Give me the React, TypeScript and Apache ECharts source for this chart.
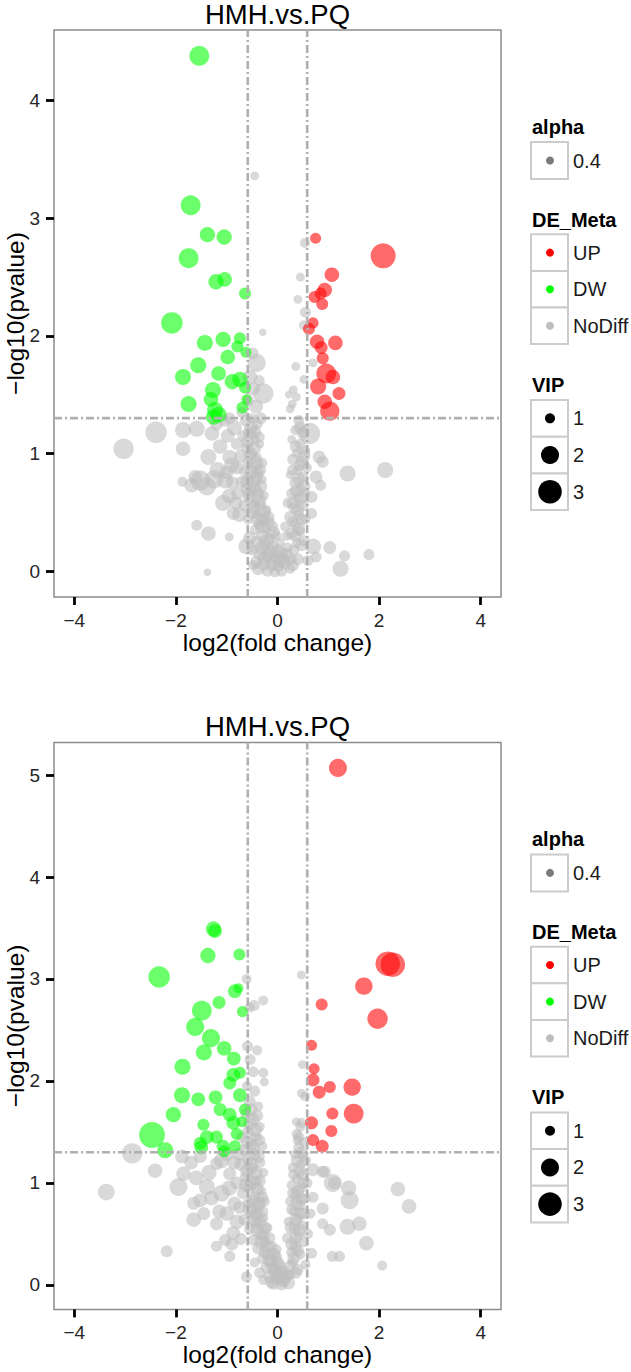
import React, { useEffect, useRef } from "react";
import * as echarts from "echarts";

// ---------- texts / ticks ----------
const TITLE = "HMH.vs.PQ";
const X_NAME = "log2(fold change)";
const Y_NAME = "\u2212log10(pvalue)";
const X_TICKS = [-4, -2, 0, 2, 4];
const Y_TICKS_TOP = [0, 1, 2, 3, 4];
const Y_TICKS_BOTTOM = [0, 1, 2, 3, 4, 5];
const X_RANGE = [-4.4, 4.4];
const Y_RANGE_TOP = [-0.22, 4.6];
const Y_RANGE_BOTTOM = [-0.24, 5.32];
const FC_CUT = 0.585;
const P_CUT = 1.301;
const ALPHA_LABELS = ["0.4"];
const DE_LABELS = ["UP", "DW", "NoDiff"];
const VIP_LABELS = [1, 2, 3];

// ---------- data: [log2FC, -log10(p), VIP] ----------
const upTop = [
  [0.75, 2.83, 1.1], [2.08, 2.68, 3.3], [1.07, 2.52, 1.5], [0.93, 2.39, 1.5], [0.85, 2.36, 1.2],
  [0.73, 2.33, 1.2], [0.88, 2.27, 1.2], [0.7, 2.11, 1.1], [0.62, 2.06, 1.2], [0.78, 1.95, 1.5],
  [1.14, 1.94, 1.5], [0.86, 1.9, 1.3], [0.89, 1.81, 1.2], [0.96, 1.68, 2.3], [1.09, 1.65, 1.5],
  [0.8, 1.57, 1.7], [1.21, 1.51, 1.3], [0.93, 1.44, 1.5], [1.03, 1.36, 2.2],
];
const dwTop = [
  [-1.54, 4.38, 2.3], [-1.71, 3.11, 2.3], [-1.38, 2.86, 1.6], [-1.05, 2.84, 1.6], [-1.75, 2.66, 2.3],
  [-1.21, 2.46, 1.6], [-1.04, 2.48, 1.5], [-0.64, 2.36, 1.2], [-2.08, 2.11, 2.6], [-1.43, 1.94, 1.7],
  [-1.07, 1.97, 1.6], [-0.74, 1.98, 1.2], [-0.79, 1.91, 1.2], [-0.62, 1.86, 1.1], [-0.98, 1.82, 1.5],
  [-1.56, 1.75, 1.7], [-1.86, 1.65, 1.7], [-1.16, 1.68, 1.5], [-0.89, 1.61, 1.6], [-0.74, 1.63, 1.6],
  [-0.64, 1.56, 1.2], [-1.27, 1.54, 1.7], [-1.31, 1.46, 1.5], [-1.75, 1.42, 1.7], [-1.23, 1.37, 1.7],
  [-1.16, 1.33, 1.7], [-0.69, 1.39, 1.2], [-0.61, 1.46, 1.0], [-1.26, 1.31, 1.6],
];
const ndTop = [
  [-0.45, 3.36, 0.9], [0.54, 2.79, 1.0], [0.45, 2.5, 0.9], [0.4, 2.31, 0.9], [0.55, 2.2, 1.1],
  [0.52, 2.09, 1.0], [-0.29, 2.03, 0.8], [0.36, 1.74, 0.9], [0.7, 1.77, 0.9], [0.52, 1.63, 0.9],
  [0.31, 1.54, 0.9], [0.37, 1.48, 0.9], [0.29, 1.42, 0.9], [0.22, 1.5, 0.8], [0.25, 1.38, 0.9],
  [-2.39, 1.18, 2.6], [-3.03, 1.04, 2.4], [-1.86, 1.2, 1.7], [-1.59, 1.21, 1.7], [-1.86, 1.04, 1.5],
  [-1.36, 0.97, 1.7], [-1.29, 1.17, 1.5], [-1.52, 0.77, 2.3], [-1.87, 0.76, 1.0], [-1.69, 0.73, 1.5],
  [-1.39, 0.72, 2.0], [-1.03, 0.77, 1.7], [-1.13, 1.06, 1.5], [-0.94, 0.97, 1.5], [-1.07, 0.58, 1.7],
  [-0.87, 0.49, 1.3], [-1.59, 0.39, 1.1], [-1.36, 0.32, 1.5], [-0.95, 0.29, 0.9], [-1.38, -0.01, 0.8],
  [-0.61, 0.21, 1.7],
  [0.63, 1.17, 2.6], [1.38, 0.83, 1.7], [2.12, 0.86, 1.7], [0.7, 0.21, 1.7], [1.03, 0.2, 1.3],
  [1.32, 0.13, 1.1], [1.8, 0.14, 1.1], [1.24, 0.02, 1.7], [0.82, 0.97, 1.3], [0.89, 0.93, 1.2],
  [0.76, 0.8, 1.3], [0.85, 0.73, 1.1], [0.67, 0.63, 1.2], [0.67, 0.49, 1.1], [0.6, 0.09, 1.1],
  [0.76, 0.12, 1.1],
  [-0.41, 1.77, 2.0], [-0.28, 1.51, 2.4], [-0.54, 1.65, 1.5], [-0.49, 1.85, 1.2],
  [-0.47, 1.55, 1.3], [-0.36, 1.62, 1.1], [-0.58, 1.45, 1.2], [-0.42, 1.4, 1.4], [-0.33, 1.3, 1.2],
  [-0.62, 1.28, 1.2], [-0.5, 1.3, 1.0], [-0.4, 1.25, 1.1], [-0.55, 1.18, 1.3], [-0.68, 1.15, 1.1],
  [-0.45, 1.12, 1.0], [-0.35, 1.08, 0.9], [-0.6, 1.05, 1.2], [-0.5, 1.0, 1.1], [-0.72, 0.98, 1.3],
  [-0.4, 0.96, 1.0], [-0.3, 0.92, 1.0], [-0.58, 0.92, 1.1], [-0.48, 0.88, 1.2], [-0.66, 0.85, 1.0],
  [-0.8, 0.88, 1.4], [-0.38, 0.84, 1.1], [-0.55, 0.8, 1.0], [-0.45, 0.76, 1.3], [-0.7, 0.76, 1.2],
  [-0.3, 0.78, 0.9], [-0.62, 0.7, 1.1], [-0.5, 0.68, 1.0], [-0.38, 0.66, 1.2], [-0.78, 0.66, 1.3],
  [-0.27, 0.64, 1.0], [-0.56, 0.62, 1.1], [-0.44, 0.58, 1.0], [-0.65, 0.56, 1.2], [-0.33, 0.56, 1.1],
  [-0.22, 0.52, 1.0], [-0.5, 0.5, 1.3], [-0.4, 0.48, 1.0], [-0.58, 0.44, 1.0], [-0.28, 0.44, 1.2],
  [-0.15, 0.42, 1.0],
  [-0.52, 1.22, 1.4], [-0.44, 1.18, 1.2], [-0.58, 1.1, 1.4], [-0.36, 1.14, 1.1], [-0.47, 1.04, 1.5],
  [-0.55, 0.98, 1.2], [-0.42, 0.92, 1.4], [-0.34, 0.86, 1.2], [-0.52, 0.84, 1.4], [-0.41, 0.8, 1.3],
  [-0.6, 0.76, 1.4], [-0.33, 0.72, 1.3], [-0.46, 0.7, 1.5], [-0.56, 0.66, 1.3], [-0.36, 0.6, 1.4],
  [-0.48, 0.54, 1.4], [-0.26, 0.5, 1.3], [-0.38, 0.44, 1.5], [-0.18, 0.46, 1.2], [-0.3, 0.38, 1.4],
  [-0.08, 0.33, 1.3], [-0.2, 0.26, 1.5], [0.0, 0.17, 1.4], [-0.14, 0.16, 1.4], [-0.32, 0.2, 1.3],
  [0.12, 0.1, 1.3], [-0.08, 0.07, 1.5], [0.06, 0.09, 1.4], [-0.26, 0.11, 1.4], [-0.38, 0.02, 1.3],
  [0.18, 0.14, 1.3], [0.3, 0.05, 1.2],
  [-0.85, 1.22, 1.6], [-0.98, 1.15, 1.4], [-0.8, 1.08, 1.2], [-1.2, 1.25, 1.3], [-1.05, 1.28, 1.2],
  [-0.9, 0.9, 1.6], [-1.0, 0.84, 1.4], [-1.18, 0.86, 1.7], [-0.88, 0.75, 1.3], [-1.25, 0.78, 2.0],
  [-0.95, 0.64, 1.5], [-0.82, 0.58, 1.3], [-0.75, 0.48, 1.5], [-1.62, 0.8, 1.4], [-0.7, 1.35, 1.1],
  [-0.95, 1.3, 1.2],
  [-0.35, 0.4, 1.2], [-0.22, 0.36, 1.0], [-0.1, 0.38, 1.1], [-0.45, 0.35, 1.0], [-0.3, 0.3, 1.3],
  [-0.15, 0.28, 1.1], [-0.02, 0.3, 1.0], [-0.4, 0.25, 1.2], [-0.25, 0.22, 1.1], [-0.1, 0.2, 1.3],
  [0.05, 0.24, 1.0], [-0.5, 0.18, 1.1], [-0.35, 0.15, 1.3], [-0.2, 0.13, 1.2], [-0.05, 0.12, 1.1],
  [0.1, 0.15, 1.2], [0.2, 0.2, 1.0], [-0.42, 0.08, 1.2], [-0.28, 0.06, 1.3], [-0.12, 0.05, 1.2],
  [0.02, 0.04, 1.1], [0.15, 0.07, 1.2], [0.28, 0.1, 1.0], [-0.2, 0.0, 1.1], [-0.05, -0.01, 1.0],
  [0.08, 0.0, 1.1], [0.25, 0.02, 1.0], [0.32, 0.18, 1.1], [0.18, 0.3, 1.0], [-0.55, 0.28, 1.3],
  [-0.48, 0.05, 1.0],
  [0.42, 1.28, 1.1], [0.35, 1.2, 1.0], [0.5, 1.18, 1.3], [0.28, 1.12, 0.9], [0.45, 1.08, 1.1],
  [0.55, 1.02, 1.0], [0.38, 1.0, 1.0], [0.3, 0.95, 1.1], [0.48, 0.93, 1.2], [0.58, 0.88, 1.0],
  [0.4, 0.86, 1.0], [0.25, 0.82, 0.9], [0.5, 0.8, 1.1], [0.35, 0.75, 1.2], [0.45, 0.7, 1.0],
  [0.55, 0.66, 1.0], [0.28, 0.66, 1.1], [0.4, 0.62, 1.0], [0.2, 0.58, 1.0], [0.5, 0.56, 1.2],
  [0.32, 0.54, 1.1], [0.42, 0.48, 1.0], [0.25, 0.46, 1.2], [0.55, 0.44, 1.0], [0.35, 0.4, 1.1],
  [0.15, 0.38, 1.0], [0.45, 0.34, 1.0], [0.28, 0.32, 1.2], [0.52, 0.26, 1.1], [0.38, 0.24, 1.0],
  [0.44, 1.22, 1.2], [0.36, 1.06, 1.2], [0.52, 0.98, 1.3], [0.44, 0.9, 1.2], [0.3, 0.86, 1.1],
  [0.42, 0.78, 1.3], [0.53, 0.72, 1.2], [0.36, 0.68, 1.2], [0.46, 0.62, 1.3], [0.3, 0.58, 1.2],
  [0.4, 0.52, 1.3], [0.48, 0.44, 1.2], [0.3, 0.42, 1.1], [0.42, 0.36, 1.3], [0.35, 0.3, 1.2],
  [0.47, 0.22, 1.2], [0.4, 0.1, 1.2],
];

const upBottom = [
  [1.19, 5.07, 2.0], [2.17, 3.15, 3.2], [2.27, 3.14, 3.2], [1.7, 2.93, 1.9], [0.87, 2.75, 1.2],
  [1.97, 2.61, 2.4], [0.67, 2.35, 1.1], [0.72, 2.12, 1.1], [0.7, 2.01, 1.3], [0.82, 1.89, 1.3],
  [1.03, 1.94, 1.2], [1.47, 1.94, 1.9], [1.5, 1.68, 2.3], [1.08, 1.68, 1.2], [0.67, 1.59, 1.3],
  [1.06, 1.51, 1.2], [0.7, 1.42, 1.2], [0.88, 1.36, 1.3],
];
const dwBottom = [
  [-1.26, 3.49, 1.6], [-1.23, 3.47, 1.4], [-1.37, 3.23, 1.6], [-0.75, 3.24, 1.2], [-2.33, 3.02, 2.6],
  [-0.84, 2.88, 1.4], [-0.77, 2.91, 1.0], [-1.15, 2.77, 1.3], [-1.49, 2.69, 2.3], [-0.69, 2.68, 1.1],
  [-1.62, 2.53, 2.0], [-1.31, 2.42, 2.0], [-1.45, 2.28, 1.7], [-1.05, 2.32, 1.5], [-0.86, 2.22, 1.4],
  [-1.87, 2.14, 1.7], [-0.87, 2.06, 1.4], [-0.94, 1.98, 1.3], [-0.74, 2.08, 1.2], [-1.88, 1.86, 1.7],
  [-1.56, 1.82, 1.4], [-1.22, 1.84, 1.4], [-0.74, 1.86, 1.4], [-2.05, 1.67, 1.6], [-1.13, 1.72, 1.3],
  [-0.94, 1.67, 1.4], [-0.64, 1.72, 1.2], [-0.87, 1.59, 1.4], [-1.46, 1.57, 1.2], [-2.47, 1.47, 3.5],
  [-1.39, 1.45, 1.4], [-1.52, 1.39, 1.3], [-1.2, 1.45, 1.3], [-1.07, 1.36, 1.3], [-0.84, 1.36, 1.2],
  [-2.21, 1.32, 1.7], [-1.05, 1.31, 1.2], [-0.7, 1.6, 1.1], [-0.8, 1.48, 1.2], [-1.5, 1.35, 1.4],
];
const ndBottom = [
  [0.47, 3.04, 0.9], [-0.61, 3.0, 1.0], [-0.28, 2.79, 1.0], [-0.46, 2.74, 1.1], [-0.55, 2.72, 1.0],
  [-0.59, 2.34, 1.1], [-0.4, 2.3, 1.0], [-0.54, 2.21, 1.1], [-0.48, 2.09, 1.1], [-0.28, 2.08, 1.0],
  [-0.26, 1.99, 0.9], [0.49, 2.16, 0.9], [0.47, 1.88, 0.9], [0.54, 1.85, 1.0], [0.47, 1.59, 1.0],
  [0.37, 1.6, 0.9], [0.4, 1.42, 1.0], [0.5, 1.26, 1.0],
  [-2.86, 1.29, 2.4], [-3.37, 0.91, 1.8], [-2.41, 1.12, 1.5], [-1.95, 0.96, 2.0], [-2.18, 0.33, 1.2],
  [-1.65, 0.64, 1.5], [-1.52, 0.83, 1.4], [-1.88, 1.26, 1.4], [-1.85, 1.09, 1.5], [-1.65, 0.8, 1.3],
  [-1.39, 0.96, 1.7], [-1.2, 0.6, 1.3], [-1.03, 0.44, 1.2], [-0.94, 0.28, 1.1], [-0.61, 0.08, 1.1],
  [-1.52, 1.26, 1.3], [-1.2, 1.19, 1.3], [-0.94, 1.09, 1.3], [-0.87, 0.51, 1.4], [-1.2, 0.38, 1.1],
  [-1.7, 1.2, 1.4], [-1.35, 1.1, 1.6], [-1.1, 0.9, 1.8], [-1.45, 0.7, 1.3], [-1.0, 0.7, 1.5],
  [-0.85, 0.8, 1.4],
  [-1.1, 1.22, 1.6], [-0.85, 1.2, 1.4], [-1.3, 0.85, 1.5], [-0.95, 0.95, 1.6], [-0.8, 0.62, 1.5],
  [-1.15, 0.72, 1.4], [-0.9, 0.4, 1.3], [-1.6, 1.05, 1.5], [-0.75, 1.28, 1.3], [-1.0, 1.28, 1.4],
  [2.37, 0.94, 1.5], [2.59, 0.77, 1.5], [1.42, 0.83, 2.0], [1.09, 1.0, 2.0], [1.4, 0.95, 1.6],
  [1.61, 0.6, 1.5], [1.75, 0.41, 1.5], [1.38, 0.57, 1.7], [2.06, 0.19, 1.0], [1.08, 0.28, 1.1],
  [1.22, 0.28, 1.1], [0.89, 0.75, 1.2], [1.03, 0.54, 1.2], [0.89, 1.11, 1.2], [0.7, 1.13, 1.3],
  [0.93, 1.11, 1.2], [1.12, 1.0, 1.3], [0.7, 0.86, 1.1], [0.89, 0.6, 1.1], [0.67, 0.31, 1.1],
  [0.6, 0.5, 1.0], [0.65, 0.7, 1.0],
  [-0.6, 1.95, 1.0], [-0.45, 1.9, 1.1], [-0.55, 1.8, 1.2], [-0.38, 1.75, 1.0], [-0.62, 1.68, 1.1],
  [-0.48, 1.62, 1.3], [-0.35, 1.55, 1.0], [-0.58, 1.5, 1.2], [-0.7, 1.45, 1.1], [-0.42, 1.45, 1.1],
  [-0.52, 1.38, 1.3], [-0.3, 1.36, 1.0], [-0.65, 1.32, 1.2], [-0.45, 1.28, 1.2], [-0.58, 1.22, 1.1],
  [-0.35, 1.2, 1.1], [-0.72, 1.18, 1.3], [-0.5, 1.14, 1.2], [-0.28, 1.1, 1.0], [-0.62, 1.06, 1.2],
  [-0.42, 1.02, 1.1], [-0.8, 1.0, 1.3], [-0.55, 0.96, 1.3], [-0.32, 0.92, 1.0], [-0.68, 0.9, 1.2],
  [-0.45, 0.86, 1.2], [-0.25, 0.82, 1.0], [-0.58, 0.8, 1.1], [-0.75, 0.76, 1.3], [-0.38, 0.76, 1.2],
  [-0.5, 0.7, 1.1], [-0.28, 0.66, 1.0], [-0.65, 0.64, 1.2], [-0.42, 0.6, 1.2], [-0.2, 0.56, 1.0],
  [-0.55, 0.55, 1.1], [-0.34, 0.5, 1.2], [-0.72, 0.45, 1.2], [-0.48, 0.44, 1.1],
  [-0.52, 1.72, 1.2], [-0.4, 1.66, 1.2], [-0.55, 1.58, 1.3], [-0.44, 1.52, 1.4], [-0.36, 1.42, 1.2],
  [-0.6, 1.4, 1.3], [-0.48, 1.34, 1.4], [-0.38, 1.26, 1.3], [-0.52, 1.18, 1.4], [-0.42, 1.1, 1.3],
  [-0.6, 1.12, 1.4], [-0.35, 1.02, 1.2], [-0.5, 1.0, 1.5], [-0.4, 0.94, 1.3], [-0.62, 0.98, 1.4],
  [-0.3, 0.86, 1.2], [-0.48, 0.82, 1.4], [-0.36, 0.8, 1.3], [-0.55, 0.74, 1.4], [-0.42, 0.7, 1.3],
  [-0.3, 0.72, 1.2], [-0.46, 0.64, 1.4], [-0.34, 0.62, 1.3], [-0.24, 0.56, 1.2], [-0.4, 0.54, 1.4],
  [-0.28, 0.48, 1.3], [-0.16, 0.46, 1.2], [-0.32, 0.42, 1.4], [-0.2, 0.38, 1.3], [-0.08, 0.3, 1.3],
  [-0.25, 0.32, 1.2], [-0.15, 0.24, 1.4], [0.0, 0.22, 1.3], [-0.08, 0.16, 1.4], [0.06, 0.12, 1.3],
  [-0.02, 0.1, 1.4], [0.12, 0.04, 1.3], [-0.12, 0.03, 1.3], [0.18, 0.1, 1.2],
  [-0.25, 0.42, 1.1], [-0.1, 0.38, 1.0], [-0.38, 0.36, 1.2], [-0.18, 0.3, 1.2], [-0.02, 0.28, 1.1],
  [-0.3, 0.26, 1.1], [-0.45, 0.22, 1.0], [-0.12, 0.22, 1.3], [0.05, 0.2, 1.0], [-0.22, 0.17, 1.2],
  [-0.35, 0.12, 1.1], [-0.05, 0.14, 1.2], [0.12, 0.14, 1.1], [-0.15, 0.08, 1.3], [0.0, 0.06, 1.2],
  [0.15, 0.06, 1.1], [-0.28, 0.05, 1.0], [0.25, 0.1, 1.0], [-0.08, 0.01, 1.2], [0.08, 0.0, 1.1],
  [0.22, 0.02, 1.3], [-0.02, 0.35, 1.0], [0.3, 0.22, 1.0],
  [0.45, 1.55, 1.0], [0.38, 1.48, 1.0], [0.52, 1.4, 1.0], [0.42, 1.35, 1.1], [0.35, 1.28, 1.0],
  [0.55, 1.22, 1.1], [0.45, 1.18, 1.0], [0.3, 1.15, 1.0], [0.5, 1.08, 1.2], [0.38, 1.04, 1.0],
  [0.58, 1.0, 1.1], [0.28, 0.98, 1.0], [0.46, 0.95, 1.1], [0.36, 0.88, 1.2], [0.55, 0.85, 1.0],
  [0.25, 0.82, 1.0], [0.44, 0.78, 1.1], [0.32, 0.72, 1.0], [0.52, 0.7, 1.2], [0.4, 0.65, 1.0],
  [0.22, 0.62, 1.0], [0.48, 0.58, 1.1], [0.33, 0.55, 1.1], [0.42, 0.48, 1.0], [0.2, 0.46, 1.1],
  [0.52, 0.42, 1.0], [0.35, 0.38, 1.2], [0.45, 0.3, 1.0], [0.28, 0.32, 1.1], [0.55, 0.2, 1.0],
  [0.4, 0.15, 1.1],
  [0.42, 1.45, 1.1], [0.48, 1.3, 1.2], [0.38, 1.22, 1.2], [0.44, 1.12, 1.3], [0.32, 1.08, 1.1],
  [0.5, 1.0, 1.2], [0.4, 0.92, 1.3], [0.3, 0.9, 1.1], [0.48, 0.84, 1.2], [0.38, 0.8, 1.3],
  [0.28, 0.74, 1.1], [0.46, 0.7, 1.2], [0.36, 0.64, 1.3], [0.26, 0.56, 1.2], [0.44, 0.54, 1.3],
  [0.36, 0.46, 1.2], [0.28, 0.4, 1.3], [0.4, 0.34, 1.2], [0.32, 0.26, 1.3], [0.24, 0.18, 1.2],
  [0.36, 0.12, 1.2],
];

// ---------- styling ----------
const FONT = "'Liberation Sans', Arial, Helvetica, sans-serif";
const COLORS = { UP: "#FF0000", DW: "#00FF00", NoDiff: "#BEBEBE" };
const POINT_OPACITY = 0.58;
const PANEL_LEFT = 54;
const PANEL_W = 447;
const PANEL_H = 567;
const PANEL_TOPS = [30, 742.4];
const LEG_X = 531;

const vipSize = (v: number) => Math.max(3, -0.9 + 26.8 * Math.sqrt(Math.max(0, v - 0.5) / 3));
const fmt = (v: number) => (v < 0 ? "\u2212" + Math.abs(v) : String(v));

function textEl(text: string, x: number, y: number, size: number, opts: any = {}) {
  return {
    type: "text",
    x,
    y,
    silent: true,
    style: {
      text,
      fontSize: size,
      fontFamily: FONT,
      fontWeight: opts.bold ? "bold" : "normal",
      fill: opts.fill || "#1a1a1a",
      align: opts.align || "left",
      verticalAlign: "middle",
      textAlign: opts.align || "left",
      textVerticalAlign: "middle",
    },
  };
}

function keyBox(y: number, h: number) {
  return {
    type: "rect",
    silent: true,
    shape: { x: LEG_X, y, width: 37, height: h },
    style: { fill: "#ffffff", stroke: "#cccccc", lineWidth: 2 },
  };
}

function legendEls(dy: number) {
  const els: any[] = [];
  els.push(textEl(TITLE, 277.5, 14.5 + dy, 27.5, { align: "center", fill: "#000" }));
  // alpha
  els.push(textEl("alpha", 532, 126.5 + dy, 20, { bold: true, fill: "#000" }));
  ALPHA_LABELS.forEach((lab, i) => {
    const y = 142 + dy + i * 37;
    els.push(keyBox(y, 37));
    els.push({ type: "circle", silent: true, shape: { cx: 550, cy: y + 18.5, r: 4 }, style: { fill: "#7a7a7a" } });
    els.push(textEl(lab, 573, y + 18.5, 20));
  });
  // DE_Meta
  els.push(textEl("DE_Meta", 532, 219.8 + dy, 20, { bold: true, fill: "#000" }));
  DE_LABELS.forEach((lab, i) => {
    const y = 234.3 + dy + i * 36.6;
    els.push(keyBox(y, 36.6));
    els.push({ type: "circle", silent: true, shape: { cx: 550, cy: y + 18.3, r: 4 }, style: { fill: (COLORS as any)[lab] } });
    els.push(textEl(lab, 573, y + 18.3, 20));
  });
  // VIP
  els.push(textEl("VIP", 532, 385 + dy, 20, { bold: true, fill: "#000" }));
  VIP_LABELS.forEach((v, i) => {
    const y = 400 + dy + i * 36.7;
    els.push(keyBox(y, 36.7));
    els.push({ type: "circle", silent: true, shape: { cx: 550, cy: y + 18.35, r: vipSize(v) / 2 }, style: { fill: "#000" } });
    els.push(textEl(String(v), 573, y + 18.35, 20));
  });
  return els;
}

function buildOption() {
  const panels = [
    { up: upTop, dw: dwTop, nd: ndTop, yr: Y_RANGE_TOP, yt: Y_TICKS_TOP },
    { up: upBottom, dw: dwBottom, nd: ndBottom, yr: Y_RANGE_BOTTOM, yt: Y_TICKS_BOTTOM },
  ];
  const grid: any[] = [];
  const xAxis: any[] = [];
  const yAxis: any[] = [];
  const series: any[] = [];
  const cutStyle = { color: "#b0b0b0", width: 2.6, type: [8, 3, 2, 3] };
  panels.forEach((p, i) => {
    grid.push({
      left: PANEL_LEFT,
      top: PANEL_TOPS[i],
      width: PANEL_W,
      height: PANEL_H,
      show: true,
      backgroundColor: "#ffffff",
      borderColor: "#8c8c8c",
      borderWidth: 1.5,
      containLabel: false,
      outerBoundsMode: "none",
    });
    const common = {
      type: "value",
      gridIndex: i,
      nameLocation: "middle",
      nameMoveOverlap: false,
      nameTextStyle: { fontSize: 24.5, color: "#000", fontFamily: FONT },
      axisLine: { show: false, onZero: false },
      splitLine: { show: false },
    };
    const tickStyle = { show: true, length: 8, lineStyle: { color: "#000", width: 2.8 } };
    xAxis.push({
      ...common,
      min: X_RANGE[0],
      max: X_RANGE[1],
      name: X_NAME,
      nameGap: 33,
      axisTick: { ...tickStyle, customValues: X_TICKS },
      axisLabel: { customValues: X_TICKS, fontSize: 19, color: "#262626", margin: 14, fontFamily: FONT, formatter: fmt },
    });
    yAxis.push({
      ...common,
      min: p.yr[0],
      max: p.yr[1],
      name: Y_NAME,
      nameGap: 26,
      axisTick: { ...tickStyle, customValues: p.yt },
      axisLabel: { customValues: p.yt, fontSize: 19, color: "#262626", margin: 14, fontFamily: FONT, formatter: fmt },
    });
    const mk = (name: string, data: number[][]) => ({
      type: "scatter",
      name,
      xAxisIndex: i,
      yAxisIndex: i,
      data,
      symbol: "circle",
      symbolSize: (d: number[]) => vipSize(d[2]),
      itemStyle: { color: (COLORS as any)[name], opacity: POINT_OPACITY, borderWidth: 0 },
      emphasis: { disabled: true },
    });
    series.push(mk("NoDiff", p.nd));
    series.push(mk("DW", p.dw));
    series.push(mk("UP", p.up));
    const cutLine = (name: string, data: number[][]) => ({
      type: "line",
      name,
      xAxisIndex: i,
      yAxisIndex: i,
      data,
      z: 10,
      silent: true,
      symbol: "none",
      lineStyle: cutStyle,
      emphasis: { disabled: true },
    });
    series.push(cutLine("fc-low", [[-FC_CUT, p.yr[0]], [-FC_CUT, p.yr[1]]]));
    series.push(cutLine("fc-high", [[FC_CUT, p.yr[0]], [FC_CUT, p.yr[1]]]));
    series.push(cutLine("p-cut", [[X_RANGE[0], P_CUT], [X_RANGE[1], P_CUT]]));
  });
  return {
    animation: false,
    backgroundColor: "#ffffff",
    textStyle: { fontFamily: FONT },
    grid,
    xAxis,
    yAxis,
    series,
    graphic: [...legendEls(0), ...legendEls(712.4)],
  };
}

export default function App() {
  const ref = useRef<HTMLDivElement>(null);
  useEffect(() => {
    document.body.style.margin = "0";
    if (!ref.current) return;
    const chart = echarts.init(ref.current, null, { renderer: "svg" });
    chart.setOption(buildOption() as any);
    return () => chart.dispose();
  }, []);
  return <div ref={ref} style={{ width: 631, height: 1372 }} />;
}
